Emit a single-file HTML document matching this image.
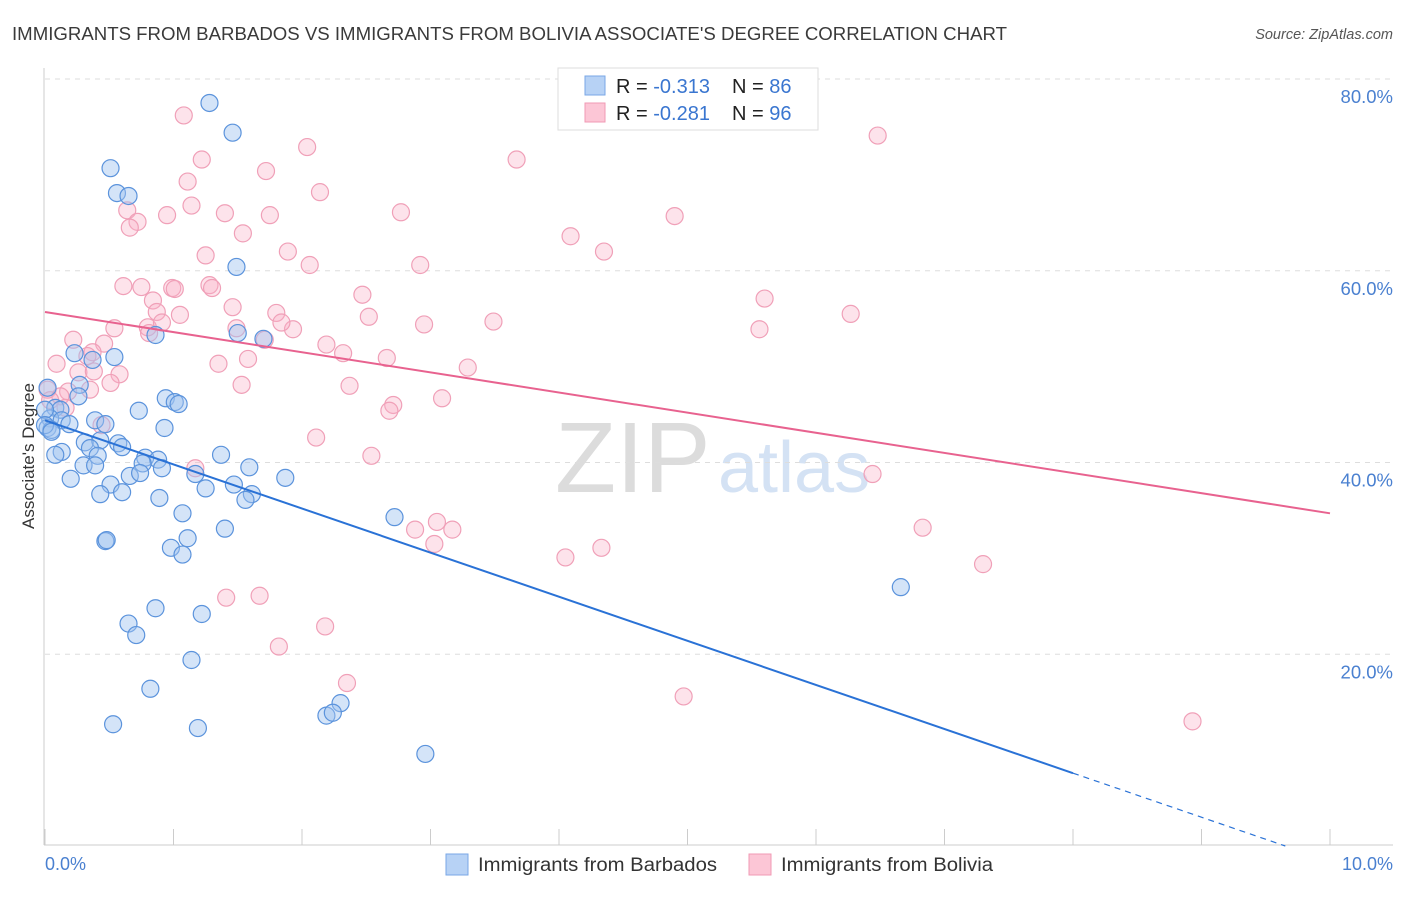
<!DOCTYPE html>
<html><head><meta charset="utf-8"><style>
body{margin:0;background:#fff;font-family:"Liberation Sans",sans-serif}
svg text{font-family:"Liberation Sans",sans-serif}
</style></head><body>
<svg id="c" width="1406" height="892" viewBox="0 0 1406 892">
<text x="12" y="40" font-size="18" textLength="995" lengthAdjust="spacingAndGlyphs" fill="#3a3a3a">IMMIGRANTS FROM BARBADOS VS IMMIGRANTS FROM BOLIVIA ASSOCIATE'S DEGREE CORRELATION CHART</text>
<text x="1393" y="39" font-size="14.5" fill="#555" text-anchor="end" font-style="italic">Source: ZipAtlas.com</text>
<text x="555" y="492" font-size="100" fill="#dcdcdc" font-family="Liberation Serif,serif">ZIP</text>
<text x="718" y="492" font-size="72" fill="#d4e2f4">atlas</text>
<g id="grid"></g><g id="pts"></g><g id="lines"></g>
<text transform="translate(34,456) rotate(-90)" font-size="17" fill="#333" text-anchor="middle">Associate's Degree</text>
<text x="45" y="870" font-size="18" fill="#4a80d0">0.0%</text>
<text x="1393" y="870" font-size="18" fill="#4a80d0" text-anchor="end">10.0%</text>
<g>
<rect x="558" y="68" width="260" height="62" fill="#fff" stroke="#ddd"/>
<rect x="585" y="76" width="20" height="19" fill="#b7d2f5" stroke="#7aa7e6"/>
<rect x="585" y="103" width="20" height="19" fill="#fcc6d6" stroke="#f09ab4"/>
<text x="616" y="93" font-size="20" fill="#222">R = <tspan fill="#3a76d0">-0.313</tspan><tspan x="732">N = </tspan><tspan fill="#3a76d0">86</tspan></text>
<text x="616" y="120" font-size="20" fill="#222">R = <tspan fill="#3a76d0">-0.281</tspan><tspan x="732">N = </tspan><tspan fill="#3a76d0">96</tspan></text>
</g>
<g>
<rect x="446" y="854" width="22" height="21" fill="#b7d2f5" stroke="#7aa7e6"/>
<text x="478" y="871" font-size="19" textLength="239" lengthAdjust="spacingAndGlyphs" fill="#333">Immigrants from Barbados</text>
<rect x="749" y="854" width="22" height="21" fill="#fcc6d6" stroke="#f09ab4"/>
<text x="781" y="871" font-size="19" textLength="212" lengthAdjust="spacingAndGlyphs" fill="#333">Immigrants from Bolivia</text>
</g>
</svg>
<script>
const blueX=[1.28,1.46,0.51,0.56,0.65,1.49,1.70,1.50,0.86,0.23,0.54,0.37,0.27,0.02,0.26,0.73,0.94,1.01,1.04,0.08,0.12,0.04,0.13,0.39,0.19,0.47,0.02,0.93,0.05,0.31,0.43,0.57,0.60,0.35,0.13,0.41,0.78,0.88,0.76,0.30,0.39,0.91,1.37,1.59,1.17,1.87,0.66,0.20,0.74,0.51,1.47,1.25,0.60,0.43,1.61,1.56,0.89,1.07,2.72,1.40,0.47,0.48,1.11,0.98,1.07,0.86,1.22,0.65,0.71,1.14,6.66,0.82,2.30,2.19,2.24,0.53,1.19,2.96,0.0,0.0,0.05,0.08];
const blueY=[77.5,74.4,70.7,68.1,67.8,60.4,52.9,53.5,53.3,51.4,51.0,50.7,48.1,47.8,46.9,45.4,46.7,46.3,46.1,45.7,45.5,44.6,44.4,44.4,44.0,44.0,43.6,43.6,43.4,42.1,42.3,42.0,41.6,41.5,41.1,40.7,40.5,40.3,39.9,39.7,39.7,39.4,40.8,39.5,38.8,38.4,38.6,38.3,38.9,37.7,37.7,37.3,36.9,36.7,36.7,36.1,36.3,34.7,34.3,33.1,31.8,31.9,32.1,31.1,30.4,24.8,24.2,23.2,22.0,19.4,27.0,16.4,14.9,13.6,13.9,12.7,12.3,9.6,45.5,43.9,43.2,40.8];
const pinkX=[1.08,6.48,1.22,2.04,3.67,1.11,1.72,2.14,1.14,0.95,1.40,1.75,2.77,4.90,0.64,0.72,0.66,1.54,4.09,4.35,1.25,1.89,2.06,2.92,0.61,0.75,0.99,1.01,1.28,1.30,2.47,5.60,0.84,1.46,0.87,1.05,1.80,2.52,6.27,1.93,2.95,3.49,0.54,0.80,0.91,1.49,1.84,0.22,0.46,0.81,1.71,2.19,2.32,5.56,0.37,0.33,0.09,0.26,0.38,0.58,1.35,1.58,2.66,3.29,0.51,1.53,2.37,0.02,0.18,0.12,0.35,3.09,2.71,2.68,0.04,0.16,0.44,2.11,2.54,1.17,6.44,3.05,2.88,3.17,3.03,4.33,4.05,6.83,7.30,1.41,1.67,2.18,1.82,2.35,4.97,8.93];
const pinkY=[76.2,74.1,71.6,72.9,71.6,69.3,70.4,68.2,66.8,65.8,66.0,65.8,66.1,65.7,66.3,65.1,64.5,63.9,63.6,62.0,61.6,62.0,60.6,60.6,58.4,58.3,58.2,58.1,58.5,58.2,57.5,57.1,56.9,56.2,55.7,55.4,55.6,55.2,55.5,53.9,54.4,54.7,54.0,54.1,54.6,54.0,54.6,52.8,52.4,53.5,52.8,52.3,51.4,53.9,51.5,51.1,50.3,49.4,49.5,49.2,50.3,50.8,50.9,49.9,48.3,48.1,48.0,47.6,47.4,46.9,47.6,46.7,46.0,45.4,46.5,45.7,43.9,42.6,40.7,39.4,38.8,33.8,33.0,33.0,31.5,31.1,30.1,33.2,29.4,25.9,26.1,22.9,20.8,17.0,15.6,13.0];
const yTicks=[20,40,60,80];
const yTickLabels=["20.0%","40.0%","60.0%","80.0%"];
const xTicks=[0,1,2,3,4,5,6,7,8,9,10];
const blueTrend=[44.4,-4.6];
const pinkTrend=[55.7,-2.1];
const NS="http://www.w3.org/2000/svg";
const sx=v=>45+v*128.5, sy=v=>846-v*9.5875;
function mk(t,a,p){const e=document.createElementNS(NS,t);for(const k in a)e.setAttribute(k,a[k]);p.appendChild(e);return e;}
const grid=document.getElementById('grid');
let ax=mk('line',{x1:44,y1:68,x2:44,y2:845,stroke:'#ccc'},grid);


let bx=mk('line',{x1:44,y1:845,x2:1393,y2:845,stroke:'#ccc'},grid);


yTicks.forEach((v,i)=>{
 const g=mk('line',{x1:45,y1:sy(v),x2:1393,y2:sy(v),stroke:'#ddd','stroke-dasharray':'5,5'},grid);
 
 
 const t=mk('text',{x:1393,y:sy(v)+24,'font-size':18.5,fill:'#4a80d0','text-anchor':'end'},grid);
 t.textContent=yTickLabels[i];
 
 
});
xTicks.forEach(v=>{
 const t=mk('line',{x1:sx(v),y1:829,x2:sx(v),y2:845,stroke:'#ccc'},grid);
 
 
});
const pts=document.getElementById('pts');
pinkX.forEach((x,i)=>{
 const c=mk('circle',{cx:sx(x),cy:sy(pinkY[i]),r:8.5,fill:'rgba(248,175,198,0.35)',stroke:'#f0a0b8','stroke-width':1.2},pts);
 
 
});
blueX.forEach((x,i)=>{
 const c=mk('circle',{cx:sx(x),cy:sy(blueY[i]),r:8.5,fill:'rgba(160,196,240,0.45)',stroke:'#5b93dc','stroke-width':1.2},pts);
 
 
});
const L=document.getElementById('lines');
const f=(tr,x)=>tr[0]+tr[1]*x;
let pl=mk('line',{x1:sx(0),y1:sy(f(pinkTrend,0)),x2:sx(10),y2:sy(f(pinkTrend,10)),stroke:'#e8628f','stroke-width':2},L);


let bl=mk('line',{x1:sx(0),y1:sy(f(blueTrend,0)),x2:sx(8),y2:sy(f(blueTrend,8)),stroke:'#2a72d6','stroke-width':2},L);


const xe=-blueTrend[0]/blueTrend[1];
let bd=mk('line',{x1:sx(8),y1:sy(f(blueTrend,8)),x2:sx(xe),y2:sy(0),stroke:'#2a72d6','stroke-width':1.2,'stroke-dasharray':'6,5'},L);


</script>
</body></html>
